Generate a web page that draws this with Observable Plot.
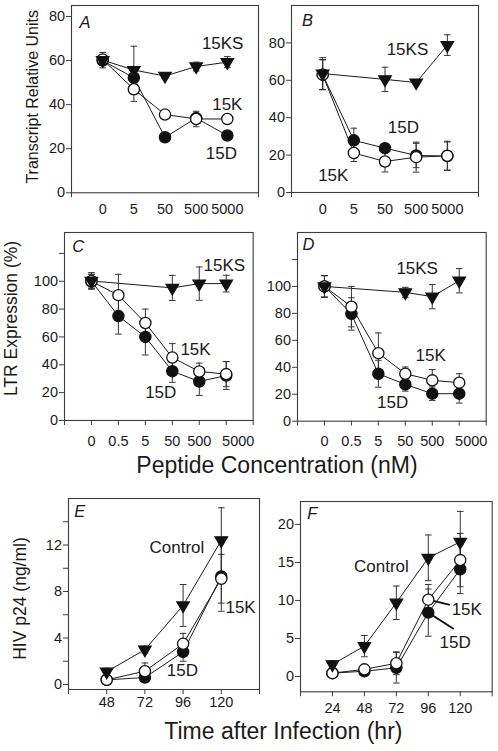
<!DOCTYPE html>
<html><head><meta charset="utf-8">
<script src="https://cdn.jsdelivr.net/npm/d3@7"></script>
<script src="https://cdn.jsdelivr.net/npm/@observablehq/plot@0.6"></script>
<style>
html,body{margin:0;padding:0;background:#fff;}
#chart{position:relative;width:498px;height:751px;overflow:hidden;font-family:'Liberation Sans',Arial,Helvetica,sans-serif;color:#1a1a1a;}
#chart svg{position:absolute;overflow:visible;background:transparent;}
.xtitle{position:absolute;width:500px;text-align:center;font-size:23px;line-height:1;white-space:nowrap;color:#1a1a1a;}
</style></head><body><div id="chart"></div>
<script>
// ---------- categories / tick labels ----------
const concAB = ["0", "5", "50", "500", "5000"];
const concCD = ["0", "0.5", "5", "50", "500", "5000"];
const hoursE = [48, 72, 96, 120];
const hoursF = [24, 48, 72, 96, 120];

// ---------- Panel A (Transcript Relative Units) ----------
const a15KS = [60.2, 55.7, 53.0, 57.3, 59.3];
const a15KSErr = [3.5, 10.8, 1.0, 2.0, 2.5];
const a15K = [60.5, 47.0, 35.5, 33.5, 33.5];
const a15KErr = [2.0, 5.5, 0.5, 3.5, 0.5];
const a15D = [60.0, 52.2, 25.2, 33.9, 26.0];
const a15DErr = [2.0, 1.5, 1.0, 1.0, 1.0];

// ---------- Panel B ----------
const b15KS = [63.6, null, 60.5, 58.8, 78.8];
const b15KSErr = [8.5, null, 6.5, 1.0, 5.5];
const b15D = [63.0, 27.9, 23.7, 19.8, 19.5];
const b15DErr = [8.0, 6.5, 1.0, 6.5, 7.5];
const b15K = [63.0, 21.1, 16.6, 18.9, 19.6];
const b15KErr = [8.0, 4.5, 5.6, 8.0, 7.8];

// ---------- Panel C (LTR Expression %) ----------
const c15KS = [100.2, null, null, 95.2, 98.3, 98.3];
const c15KSErr = [6, null, null, 9, 12, 6];
const c15K = [100, 90, 70, 45.2, 35.2, 33.3];
const c15KErr = [5, 15, 10, 10, 6, 9];
const c15D = [100, 75, 60, 35.4, 28, 32.3];
const c15DErr = [5, 13, 13, 8, 10, 10];

// ---------- Panel D ----------
const d15KS = [100, null, null, 95.6, 92.4, 104.2];
const d15KSErr = [8, null, null, 3.7, 9, 9];
const d15K = [100, 85, 50.5, 35.2, 30.3, 28.6];
const d15KErr = [8, 15, 15, 5, 8, 6.6];
const d15D = [100, 79.6, 35.2, 27.3, 20.4, 20.4];
const d15DErr = [8, 12, 10, 5, 5, 7];

// ---------- Panel E (HIV p24 ng/ml) ----------
const eControl = [1.1, 3.0, 6.8, 12.4];
const eControlErr = [0.3, 0.3, 1.8, 2.8];
const e15K = [0.4, 1.15, 3.5, 9.1];
const e15KErr = [0.2, 0.7, 0.9, 2.1];
const e15D = [0.4, 0.6, 2.8, 9.3];
const e15DErr = [0.2, 0.3, 0.8, 3.0];

// ---------- Panel F ----------
const fControl = [1.6, 4.0, 9.7, 15.6, 17.7];
const fControlErr = [0.5, 1.4, 2.2, 3.0, 4.0];
const f15K = [0.45, 0.95, 1.75, 10.1, 15.3];
const f15KErr = [0.2, 0.2, 1.5, 2.0, 3.5];
const f15D = [0.45, 0.7, 1.15, 8.4, 14.1];
const f15DErr = [0.2, 0.2, 2.0, 3.1, 3.2];

// ---------- symbols ----------
const downTri = {draw(ctx, size) { const r = Math.sqrt(size / Math.PI); const h = r * 1.7;
  ctx.moveTo(-r, -h / 3); ctx.lineTo(r, -h / 3); ctx.lineTo(0, 2 * h / 3); ctx.closePath(); }};
const capSym = {draw(ctx, size) { const r = Math.sqrt(size / Math.PI); ctx.moveTo(-r, 0); ctx.lineTo(r, 0); }};
const STY = {
  tri: {symbol: downTri, r: 6.2, fill: "#111"},
  open: {symbol: "circle", r: 5.6, fill: "#fff"},
  filled: {symbol: "circle", r: 5.6, fill: "#111"}
};
const FONT = "'Liberation Sans', Arial, Helvetica, sans-serif";
const idx = (arr) => arr.map((_, i) => i);
const range = (a, b, s) => d3.range(a, b + s / 2, s);

const panels = [
  {letter: "A", lx: 8, ly: 11, left: 71, top: 5, w: 187, h: 187.3, xDomain: [-1, 5], yDomain: [0, 85],
   xs: idx(concAB), xTicks: [-1, 5], xLabels: concAB.map((t, i) => ({v: i, t, dx: 0})), xGap: 11,
   yTicks: [0, 20, 40, 60, 80], yLabels: [0, 20, 40, 60, 80],
   ytitle: "Transcript Relative Units", ytFont: 16, ytDx: -38.5, ytDy: -2.3,
   series: [[a15D, a15DErr, STY.filled], [a15K, a15KErr, STY.open], [a15KS, a15KSErr, STY.tri]],
   notes: [{t: "15KS", x: 3.85, y: 67.8}, {t: "15K", x: 4.0, y: 40}, {t: "15D", x: 3.81, y: 17.8}]},
  {letter: "B", lx: 10.5, ly: 8.3, left: 291, top: 5, w: 187, h: 187, xDomain: [-1, 5], yDomain: [0, 100],
   xs: idx(concAB), xTicks: [-1, 5], xLabels: concAB.map((t, i) => ({v: i, t, dx: 0})), xGap: 11,
   yTicks: [0, 20, 40, 60, 80], yLabels: [0, 20, 40, 60, 80],
   series: [[b15D, b15DErr, STY.filled], [b15K, b15KErr, STY.open], [b15KS, b15KSErr, STY.tri]],
   notes: [{t: "15KS", x: 2.72, y: 76.7}, {t: "15D", x: 2.59, y: 34.5}, {t: "15K", x: 0.34, y: 8.8}]},
  {letter: "C", lx: 7.7, ly: 7.7, left: 64, top: 232.3, w: 188.7, h: 188, xDomain: [-1, 6], yDomain: [0, 135],
   xs: idx(concCD), xTicks: range(-1, 6, 1), xLabels: concCD.map((t, i) => ({v: i, t, dx: i === 5 ? 12 : 0})), xGap: 15,
   yTicks: range(0, 120, 20), yLabels: [0, 20, 40, 60, 80, 100],
   ytitle: "LTR Expression (%)", ytFont: 17.5, ytDx: -53, ytDy: -8,
   series: [[c15D, c15DErr, STY.filled], [c15K, c15KErr, STY.open], [c15KS, c15KSErr, STY.tri]],
   notes: [{t: "15KS", x: 4.93, y: 111.2}, {t: "15K", x: 3.86, y: 51.3}, {t: "15D", x: 2.57, y: 20.3}]},
  {letter: "D", lx: 5, ly: 6, left: 297.3, top: 232.3, w: 188.7, h: 188.7, xDomain: [-1, 6], yDomain: [0, 140],
   xs: idx(concCD), xTicks: range(-1, 6, 1), xLabels: concCD.map((t, i) => ({v: i, t, dx: i === 5 ? 12 : 0})), xGap: 15,
   yTicks: range(0, 120, 20), yLabels: [0, 20, 40, 60, 80, 100],
   series: [[d15D, d15DErr, STY.filled], [d15K, d15KErr, STY.open], [d15KS, d15KSErr, STY.tri]],
   notes: [{t: "15KS", x: 3.44, y: 112.9}, {t: "15K", x: 3.94, y: 48.4}, {t: "15D", x: 2.53, y: 13.5}]},
  {letter: "E", lx: 5.7, ly: 6.7, left: 68.3, top: 498.3, w: 191, h: 191, xDomain: [24, 144], yDomain: [-0.43, 16],
   xs: hoursE, xTicks: range(24, 144, 24), xLabels: hoursE.map(v => ({v, t: String(v), dx: 0})), xGap: 7.5,
   yTicks: range(0, 14, 2), yLabels: [0, 4, 8, 12],
   ytitle: "HIV p24 (ng/ml)", ytFont: 17.5, ytDx: -48.6, ytDy: 4.5,
   series: [[e15D, e15DErr, STY.filled], [e15K, e15KErr, STY.open], [eControl, eControlErr, STY.tri]],
   notes: [{t: "Control", x: 92.1, y: 11.74}, {t: "15K", x: 132.1, y: 6.58}, {t: "15D", x: 95.6, y: 1.2}]},
  {letter: "F", lx: 6.7, ly: 5.3, left: 300, top: 500.7, w: 191.7, h: 190.3, xDomain: [0, 144], yDomain: [-2, 23],
   xs: hoursF, xTicks: range(0, 144, 24), xLabels: hoursF.map(v => ({v, t: String(v), dx: 0})), xGap: 11,
   yTicks: [0, 5, 10, 15, 20], yLabels: [0, 5, 10, 15, 20],
   series: [[f15D, f15DErr, STY.filled], [f15K, f15KErr, STY.open], [fControl, fControlErr, STY.tri]],
   notes: [{t: "Control", x: 60.8, y: 14.5}, {t: "15K", x: 124.9, y: 8.81}, {t: "15D", x: 116.2, y: 4.48}],
   leaders: [{x1: 96, y1: 10.1, x2: 112.2, y2: 9.43}, {x1: 96, y1: 8.4, x2: 115.2, y2: 6.24}]}
];

const chart = document.getElementById("chart");
const mL = 70, mR = 20, mT = 12, mB = 34;

for (const p of panels) {
  const rows = p.series.map(([vals, errs, sty]) => ({sty,
    pts: p.xs.map((x, i) => ({x, v: vals[i], e: errs[i]})).filter(d => d.v != null)}));
  const marks = [];
  marks.push(Plot.frame({stroke: "#3c3c3c", strokeWidth: 1.1}));
  marks.push(Plot.axisY({ticks: p.yTicks, tickSize: 5, tickPadding: 1.5, label: null, fontSize: 14.5,
    stroke: "#3c3c3c", tickFormat: d => p.yLabels.includes(d) ? String(d) : ""}));
  marks.push(Plot.axisX({ticks: p.xTicks, tickSize: 5, label: null, stroke: "#3c3c3c", tickFormat: () => ""}));
  const plain = p.xLabels.filter(d => d.dx === 0), shifted = p.xLabels.filter(d => d.dx !== 0);
  marks.push(Plot.axisX({ticks: plain.map(d => d.v), tickSize: 0, tickPadding: p.xGap, label: null, fontSize: 14.5,
    tickFormat: v => plain.find(d => d.v === v).t}));
  for (const s of shifted) {
    marks.push(Plot.axisX({ticks: [s.v], tickSize: 0, tickPadding: p.xGap, label: null, fontSize: 14.5, dx: s.dx,
      tickFormat: () => s.t}));
  }
  for (const r of rows) marks.push(Plot.line(r.pts, {x: "x", y: "v", stroke: "#1a1a1a", strokeWidth: 1}));
  for (const r of rows) {
    const eb = r.pts.filter(d => d.e > 0);
    marks.push(Plot.ruleX(eb, {x: "x", y1: d => d.v - d.e, y2: d => d.v + d.e, stroke: "#333", strokeWidth: 1}));
    marks.push(Plot.dot(eb, {x: "x", y: d => d.v + d.e, symbol: capSym, r: 3.3, fill: "none", stroke: "#333", strokeWidth: 1}));
    marks.push(Plot.dot(eb, {x: "x", y: d => d.v - d.e, symbol: capSym, r: 3.3, fill: "none", stroke: "#333", strokeWidth: 1}));
  }
  if (p.leaders) marks.push(Plot.link(p.leaders, {x1: "x1", y1: "y1", x2: "x2", y2: "y2", stroke: "#111", strokeWidth: 1.8}));
  for (const r of rows) marks.push(Plot.dot(r.pts, {x: "x", y: "v", symbol: r.sty.symbol, r: r.sty.r,
    fill: r.sty.fill, stroke: "#111", strokeWidth: 1.3}));
  marks.push(Plot.text(p.notes, {x: "x", y: "y", text: "t", fontSize: 17, fill: "#1a1a1a"}));
  marks.push(Plot.text([p.letter], {text: d => d, frameAnchor: "top-left", dx: p.lx, dy: p.ly, lineAnchor: "top",
    textAnchor: "start", fontSize: 16.5, fontStyle: "italic", fill: "#1a1a1a"}));
  if (p.ytitle) marks.push(Plot.text([p.ytitle], {text: d => d, frameAnchor: "left", rotate: -90, dx: p.ytDx, dy: p.ytDy,
    textAnchor: "middle", lineAnchor: "middle", fontSize: p.ytFont, fill: "#1a1a1a"}));

  const svg = Plot.plot({
    width: mL + p.w + mR, height: mT + p.h + mB,
    marginLeft: mL, marginRight: mR, marginTop: mT, marginBottom: mB,
    x: {type: "linear", domain: p.xDomain},
    y: {type: "linear", domain: p.yDomain},
    style: {fontFamily: FONT, fontSize: "14.5px", color: "#1a1a1a", background: "transparent", overflow: "visible"},
    marks
  });
  svg.style.position = "absolute";
  svg.style.left = (p.left - mL) + "px";
  svg.style.top = (p.top - mT) + "px";
  chart.appendChild(svg);
}

const xTitles = [
  {text: "Peptide Concentration (nM)", cx: 277, baseline: 473},
  {text: "Time after Infection (hr)", cx: 283.4, baseline: 739}
];
for (const t of xTitles) {
  const div = document.createElement("div");
  div.className = "xtitle";
  div.textContent = t.text;
  div.style.left = (t.cx - 250) + "px";
  div.style.top = (t.baseline - 0.8465 * 23) + "px";
  chart.appendChild(div);
}
</script></body></html>
